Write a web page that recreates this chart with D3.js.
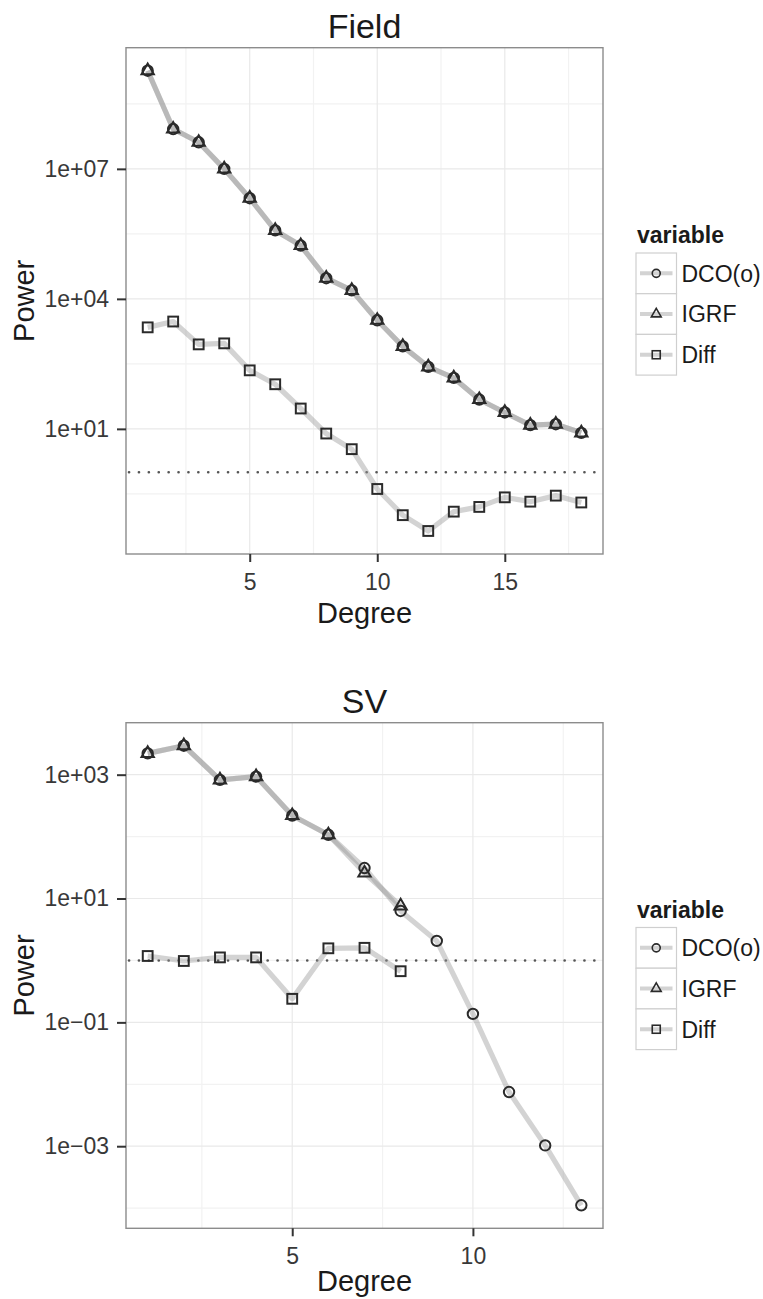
<!DOCTYPE html>
<html>
<head>
<meta charset="utf-8">
<script src="https://cdn.jsdelivr.net/npm/d3@7"></script>
<style>
body { margin: 0; background: #fff; }
text { font-family: "Liberation Sans", Arial, Helvetica, sans-serif; }
</style>
</head>
<body>
<div id="Chart"></div>
<script>
// ---- data ----
var fieldDegree = [1, 2, 3, 4, 5, 6, 7, 8, 9, 10, 11, 12, 13, 14, 15, 16, 17, 18];
var fieldDCO  = [1.84e9, 8.3e7, 4.1e7, 1.0e7, 2.1e6, 3.8e5, 1.7e5, 3.0e4, 1.57e4, 3.2e3, 8.0e2, 2.7e2, 1.5e2, 47.5, 23.9, 12.2, 12.8, 8.1];
var fieldIGRF = [1.84e9, 8.3e7, 4.1e7, 1.0e7, 2.1e6, 3.8e5, 1.7e5, 3.0e4, 1.57e4, 3.2e3, 8.0e2, 2.7e2, 1.5e2, 47.5, 23.9, 12.2, 12.8, 8.1];
var fieldDiff = [2200, 3000, 890, 940, 224, 107, 29.5, 7.8, 3.4, 0.41, 0.102, 0.044, 0.123, 0.158, 0.263, 0.209, 0.288, 0.2];

var svDegree  = [1, 2, 3, 4, 5, 6, 7, 8, 9, 10, 11, 12, 13];
var svDegree8 = [1, 2, 3, 4, 5, 6, 7, 8];
var svDCO  = [2210, 2940, 824, 931, 219, 107, 31.1, 6.3, 2.07, 0.137, 0.0075, 0.00103, 0.000111];
var svIGRF = [2210, 2940, 824, 931, 219, 107, 25.8, 7.6];
var svDiff = [1.18, 0.98, 1.12, 1.12, 0.24, 1.57, 1.60, 0.67];

var variables = ["DCO(o)", "IGRF", "Diff"];

// ticks / grid
var fieldXTicks = [5, 10, 15];
var fieldXMinor = [2.5, 7.5, 12.5, 17.5];
var fieldYTicks = [1e1, 1e4, 1e7];
var fieldYMinorExp = [-0.5, 2.5, 5.5, 8.5];
var svXTicks = [5, 10];
var svXMinor = [2.5, 7.5, 12.5];
var svYTicks = [1e-3, 1e-1, 1e1, 1e3];
var svYMinorExp = [-4, -2, 0, 2];

var W = 763, H = 1299;
var left = 126, right = 603;
var font = "'Liberation Sans', Arial, Helvetica, sans-serif";

var svg = d3.select("#Chart").append("svg")
    .attr("width", W).attr("height", H)
    .style("background", "#fff");

function sci(d) {
    var e = Math.round(Math.log10(d));
    var a = Math.abs(e);
    return "1e" + (e < 0 ? "\u2212" : "+") + (a < 10 ? "0" + a : "" + a);
}

function shape(sel, key, big) {
    sel.each(function(d) {
        var g = d3.select(this);
        if (key == "DCO(o)") {
            g.append("circle").attr("r", big ? 5.2 : 4);
        } else if (key == "IGRF") {
            g.append("path").attr("d", d3.symbol(d3.symbolTriangle, big ? 66 : 42)());
        } else {
            var s = big ? 9.8 : 8;
            g.append("rect").attr("x", -s / 2).attr("y", -s / 2).attr("width", s).attr("height", s);
        }
    });
    sel.selectAll("circle,path,rect")
        .attr("fill", "none")
        .attr("stroke", "#2a2a2a")
        .attr("stroke-width", big ? 2 : 1.6);
}

function drawPanel(opt) {
    var series = opt.series;
    var allX = [], allY = [];
    series.forEach(function(s) { allX = allX.concat(s.x); allY = allY.concat(s.y); });

    // ggplot style 5% expansion (in log space for y)
    var xe = d3.extent(allX), xr = xe[1] - xe[0];
    var x = d3.scaleLinear().domain([xe[0] - 0.05 * xr, xe[1] + 0.05 * xr]).range([left, right]);
    var ye = d3.extent(allY.map(function(v) { return Math.log10(v); })), yr = ye[1] - ye[0];
    var y = d3.scaleLog().domain([Math.pow(10, ye[0] - 0.05 * yr), Math.pow(10, ye[1] + 0.05 * yr)])
        .range([opt.bottom, opt.top]);

    var g = svg.append("g");

    // minor grid
    g.selectAll(".vminor").data(opt.xMinor).enter().append("line")
        .attr("x1", function(d) { return x(d); }).attr("x2", function(d) { return x(d); })
        .attr("y1", opt.top).attr("y2", opt.bottom)
        .attr("stroke", "#f2f2f2").attr("stroke-width", 1.2);
    g.selectAll(".hminor").data(opt.yMinorExp).enter().append("line")
        .attr("x1", left).attr("x2", right)
        .attr("y1", function(d) { return y(Math.pow(10, d)); }).attr("y2", function(d) { return y(Math.pow(10, d)); })
        .attr("stroke", "#f2f2f2").attr("stroke-width", 1.2);
    // major grid
    g.selectAll(".vmajor").data(opt.xTicks).enter().append("line")
        .attr("x1", function(d) { return x(d); }).attr("x2", function(d) { return x(d); })
        .attr("y1", opt.top).attr("y2", opt.bottom)
        .attr("stroke", "#e9e9e9").attr("stroke-width", 1.2);
    g.selectAll(".hmajor").data(opt.yTicks).enter().append("line")
        .attr("x1", left).attr("x2", right)
        .attr("y1", function(d) { return y(d); }).attr("y2", function(d) { return y(d); })
        .attr("stroke", "#e9e9e9").attr("stroke-width", 1.2);

    // dotted reference at power 1
    g.append("line")
        .attr("x1", left + 3).attr("x2", right)
        .attr("y1", y(1)).attr("y2", y(1))
        .attr("stroke", "#555").attr("stroke-width", 2.6)
        .attr("stroke-linecap", "round")
        .attr("stroke-dasharray", "0.1,9.8");

    // lines first, then points (like ggplot layers)
    var line = d3.line()
        .x(function(d) { return x(d[0]); })
        .y(function(d) { return y(d[1]); });
    series.forEach(function(s) {
        g.append("path")
            .datum(d3.zip(s.x, s.y))
            .attr("d", line)
            .attr("fill", "none")
            .attr("stroke", "#969696")
            .attr("stroke-opacity", 0.42)
            .attr("stroke-width", 5.2)
            .attr("stroke-linejoin", "round");
    });
    series.forEach(function(s) {
        var pts = g.selectAll(null).data(d3.zip(s.x, s.y)).enter().append("g")
            .attr("transform", function(d) { return "translate(" + x(d[0]) + "," + y(d[1]) + ")"; });
        shape(pts, s.key, true);
    });

    // panel border
    g.append("rect")
        .attr("x", left).attr("y", opt.top)
        .attr("width", right - left).attr("height", opt.bottom - opt.top)
        .attr("fill", "none").attr("stroke", "#8c8c8c").attr("stroke-width", 1.4);

    // axes
    var xa = g.append("g")
        .attr("transform", "translate(0," + opt.bottom + ")")
        .call(d3.axisBottom(x).tickValues(opt.xTicks).tickSize(8).tickPadding(11.5));
    var ya = g.append("g")
        .attr("transform", "translate(" + left + ",0)")
        .call(d3.axisLeft(y).tickValues(opt.yTicks).tickFormat(sci).tickSize(9).tickPadding(8));
    [xa, ya].forEach(function(a) {
        a.select(".domain").remove();
        a.selectAll(".tick line").attr("stroke", "#333").attr("stroke-width", 2);
        a.selectAll(".tick text").attr("fill", "#383838").style("font-size", "23px").style("font-family", font);
    });

    // titles
    g.append("text")
        .attr("x", (left + right) / 2).attr("y", opt.titleY)
        .attr("text-anchor", "middle")
        .style("font-size", "34px").attr("fill", "#1a1a1a")
        .text(opt.title);
    g.append("text")
        .attr("x", (left + right) / 2).attr("y", opt.xTitleY)
        .attr("text-anchor", "middle")
        .style("font-size", "29px").attr("fill", "#1a1a1a")
        .text("Degree");
    g.append("text")
        .attr("transform", "translate(34," + (opt.top + opt.bottom) / 2 + ") rotate(-90)")
        .attr("text-anchor", "middle")
        .style("font-size", "29px").attr("fill", "#1a1a1a")
        .text("Power");

    // legend
    var lx = 636, kw = 40.5, kh = 40.7, ly = opt.legendY;
    g.append("text")
        .attr("x", lx + 1).attr("y", ly)
        .style("font-size", "23px").style("font-weight", "bold").attr("fill", "#1a1a1a")
        .text("variable");
    var keys = g.selectAll(".key").data(variables).enter().append("g")
        .attr("transform", function(d, i) { return "translate(" + lx + "," + (ly + 10 + i * kh) + ")"; });
    keys.append("rect")
        .attr("width", kw).attr("height", kh)
        .attr("fill", "#fff").attr("stroke", "#cfcfcf").attr("stroke-width", 1.2);
    keys.append("line")
        .attr("x1", 4).attr("x2", kw - 4)
        .attr("y1", kh / 2).attr("y2", kh / 2)
        .attr("stroke", "#969696").attr("stroke-opacity", 0.42).attr("stroke-width", 4);
    keys.each(function(d) {
        var s = d3.select(this).append("g").attr("transform", "translate(" + kw / 2 + "," + kh / 2 + ")");
        shape(s, d, false);
    });
    keys.append("text")
        .attr("x", kw + 5).attr("y", kh / 2).attr("dy", "0.36em")
        .style("font-size", "23px").attr("fill", "#1a1a1a")
        .text(function(d) { return d; });
}

drawPanel({
    title: "Field", top: 47.7, bottom: 554, titleY: 37.7, xTitleY: 623, legendY: 243,
    series: [
        {key: "DCO(o)", x: fieldDegree, y: fieldDCO},
        {key: "IGRF", x: fieldDegree, y: fieldIGRF},
        {key: "Diff", x: fieldDegree, y: fieldDiff}
    ],
    xTicks: fieldXTicks, xMinor: fieldXMinor, yTicks: fieldYTicks, yMinorExp: fieldYMinorExp
});

drawPanel({
    title: "SV", top: 722.7, bottom: 1228.3, titleY: 713, xTitleY: 1291, legendY: 917.5,
    series: [
        {key: "DCO(o)", x: svDegree, y: svDCO},
        {key: "IGRF", x: svDegree8, y: svIGRF},
        {key: "Diff", x: svDegree8, y: svDiff}
    ],
    xTicks: svXTicks, xMinor: svXMinor, yTicks: svYTicks, yMinorExp: svYMinorExp
});
</script>
</body>
</html>
